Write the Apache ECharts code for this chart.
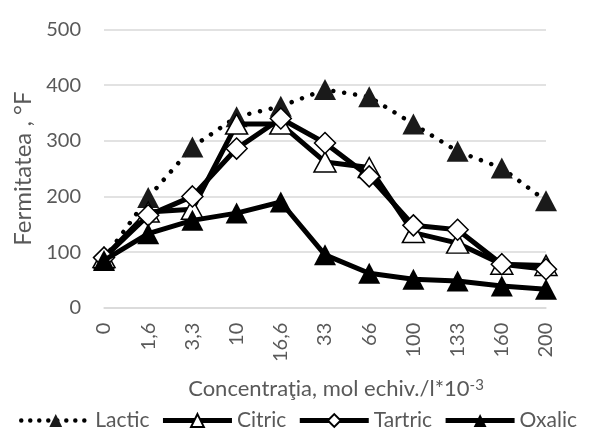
<!DOCTYPE html>
<html>
<head>
<meta charset="utf-8">
<script src="https://cdn.jsdelivr.net/npm/echarts@6/dist/echarts.min.js"></script>
<style>html,body{margin:0;padding:0;background:#fff}#c{width:590px;height:431px}</style>
</head>
<body>
<div id="c"></div>
<script>
const categories = ['0','1,6','3,3','10','16,6','33','66','100','133','160','200'];
const lactic  = [88, 198, 289, 343, 362, 392, 379, 330, 281, 251, 192];
const citric  = [90, 172, 177, 330, 330, 262, 252, 135, 116, 78, 76];
const tartric = [90, 166, 200, 286, 340, 296, 236, 148, 140, 78, 69];
const oxalic  = [85, 133, 157, 170, 190, 95, 62, 51, 48, 39, 33];
const yTicks = [0, 100, 200, 300, 400, 500];

const FONT = 'Lato';
const GREY = '#595959';
const chart = echarts.init(document.getElementById('c'), null, {renderer: 'canvas'});
chart.setOption({
  animation: false,
  textStyle: {fontFamily: FONT},
  grid: {left: 104, right: 44, top: 29.5, bottom: 123.3, containLabel: false},
  legend: {
    bottom: -5, left: 14,
    itemWidth: 69, itemHeight: 16, itemGap: 11,
    textStyle: {fontFamily: FONT, fontSize: 21, color: GREY},
    data: [
      {name: 'Lactic', lineStyle: {width: 4.5, type: [0.01, 9], cap: 'round'}},
      {name: 'Citric', lineStyle: {width: 5}},
      {name: 'Tartric', lineStyle: {width: 5}},
      {name: 'Oxalic', lineStyle: {width: 5}}
    ]
  },
  xAxis: {
    type: 'category', data: categories, boundaryGap: false,
    axisLine: {lineStyle: {color: '#d9d9d9', width: 1.5}},
    axisTick: {show: false},
    axisLabel: {rotate: 90, margin: 15, fontSize: 20, color: GREY, fontFamily: FONT},
    name: 'Concentraţia, mol echiv./l*10{s|-3}',
    nameLocation: 'middle', nameGap: 70,
    nameTextStyle: {fontSize: 22, color: GREY, fontFamily: FONT, padding: [0, 0, 0, 22],
      rich: {s: {fontSize: 15, color: GREY, fontFamily: FONT, verticalAlign: 'top', padding: [0,0,8,0]}}}
  },
  yAxis: {
    type: 'value', min: yTicks[0], max: yTicks[yTicks.length-1], interval: 100,
    axisLine: {show: false}, axisTick: {show: false},
    splitLine: {lineStyle: {color: '#d9d9d9', width: 1.5}},
    axisLabel: {margin: 23, fontSize: 20, color: GREY, fontFamily: FONT},
    name: 'Fermitatea , °F', nameLocation: 'middle', nameGap: 69,
    nameTextStyle: {fontSize: 24, color: GREY, fontFamily: FONT}
  },
  series: [
    {name: 'Lactic', type: 'line', data: lactic, symbol: 'triangle', symbolSize: [22, 21],
     lineStyle: {color: '#000', width: 4.5, type: [0.01, 11], cap: 'round'},
     itemStyle: {color: '#1a1a1a', borderColor: '#000', borderWidth: 0}, z: 2},
    {name: 'Citric', type: 'line', data: citric, symbol: 'triangle', symbolSize: [22, 20],
     lineStyle: {color: '#000', width: 5},
     itemStyle: {color: '#fff', borderColor: '#000', borderWidth: 1.5}, z: 3},
    {name: 'Tartric', type: 'line', data: tartric, symbol: 'diamond', symbolSize: [21, 21],
     lineStyle: {color: '#000', width: 5},
     itemStyle: {color: '#fff', borderColor: '#000', borderWidth: 1.5}, z: 4},
    {name: 'Oxalic', type: 'line', data: oxalic, symbol: 'triangle', symbolSize: [22, 21],
     lineStyle: {color: '#000', width: 5},
     itemStyle: {color: '#000', borderColor: '#000', borderWidth: 0}, z: 5}
  ]
});
</script>
</body>
</html>
